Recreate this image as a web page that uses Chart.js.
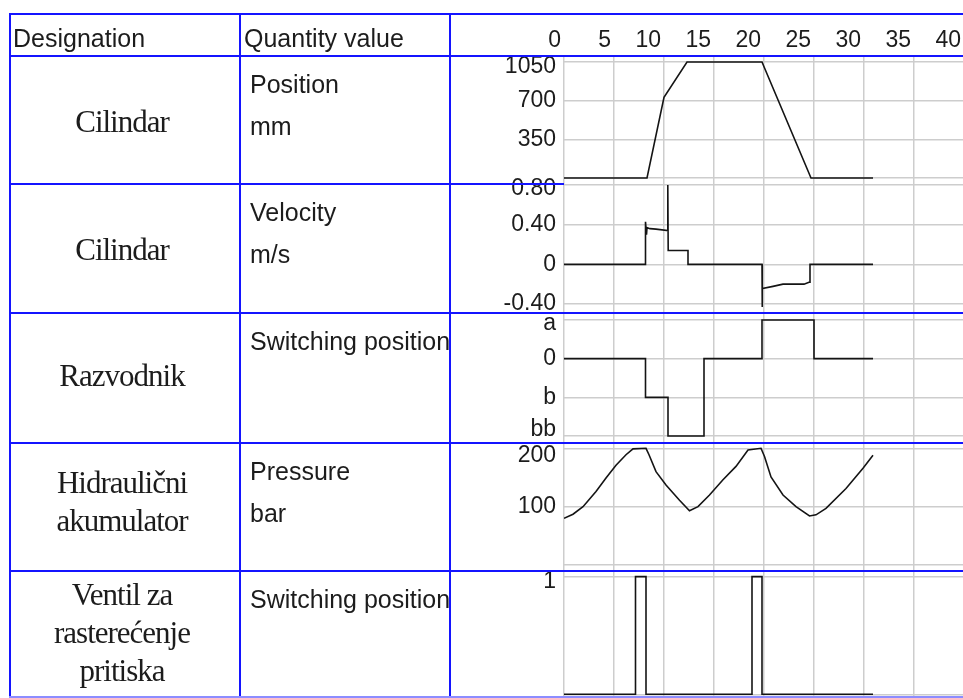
<!DOCTYPE html>
<html>
<head>
<meta charset="utf-8">
<title>State diagram</title>
<script src="https://cdn.jsdelivr.net/npm/chart.js@4.4.1/dist/chart.umd.min.js"></script>
<style>
  html, body { margin: 0; padding: 0; background: #fff; overflow: hidden; }
  canvas { display: block; }
</style>
</head>
<body>
<canvas id="stateChart" width="966" height="698"></canvas>
<script>
// time axis, s
const timeTicks = [0, 5, 10, 15, 20, 25, 30, 35, 40];

// cylinder position, mm
const positionTime = [0, 8.3, 10.0, 12.3, 19.8, 24.7, 30.9];
const positionMm = [0, 0, 730, 1050, 1050, 0, 0];
const positionGrid = [0, 350, 700, 1050];
const positionTickValues = [1050, 700, 350];
const positionTickLabels = ['1050', '700', '350'];

// cylinder velocity, m/s
const velocityTime = [0, 8.15, 8.15, 8.25, 8.3, 8.6, 9.2, 10.38, 10.38, 10.42, 12.4, 12.4,
  19.8, 19.8, 19.85, 20.9, 21.9, 24.0, 24.5, 24.6, 24.6, 30.9];
const velocityMs = [0, 0, 0.43, 0.30, 0.37, 0.36, 0.355, 0.34, 0.80, 0.14, 0.14, 0,
  0, -0.43, -0.245, -0.222, -0.20, -0.20, -0.18, -0.18, 0, 0];
const velocityGrid = [-0.4, 0, 0.4, 0.8];
const velocityTickValues = [0.8, 0.4, 0, -0.4];
const velocityTickLabels = ['0.80', '0.40', '0', '-0.40'];

// directional valve switching position (a = 1, 0, b = -1, bb = -2)
const valveTime = [0, 8.15, 8.15, 10.4, 10.4, 14.0, 14.0, 19.8, 19.8, 25.0, 25.0, 30.9];
const valvePos = [0, 0, -1, -1, -2, -2, 0, 0, 1, 1, 0, 0];
const valveGrid = [-2, -1, 0, 1];
const valveTickValues = [1, 0, -1, -2];
const valveTickLabels = ['a', '0', 'b', 'bb'];

// accumulator pressure, bar
const pressureTime = [0, 0.9, 1.9, 3.2, 4.2, 5.2, 6.2, 6.9, 8.2, 8.5, 9.2, 10.2, 11.55, 12.55,
  13.4, 14.55, 15.9, 17.2, 18.4, 19.7, 20.05, 20.7, 21.9, 23.2, 24.55, 25.2, 26.2, 28.2, 29.9, 30.9];
const pressureBar = [80, 87, 100, 126, 149, 171, 189, 199, 200, 189, 160, 137, 111, 93,
  100, 120, 146, 169, 197, 200, 186, 151, 120, 100, 84, 86, 97, 131, 166, 188];
const pressureGrid = [0, 100, 200];
const pressureTickValues = [200, 100];
const pressureTickLabels = ['200', '100'];

// pressure relief valve switching position
const reliefTime = [0, 7.15, 7.15, 8.2, 8.2, 18.8, 18.8, 19.8, 19.8, 30.9];
const reliefState = [0, 0, 1, 1, 0, 0, 1, 1, 0, 0];
const reliefGrid = [0, 1];
const reliefTickValues = [1];
const reliefTickLabels = ['1'];

const SANS = '"Liberation Sans", Arial, sans-serif';
const SERIF = '"Liberation Serif", "Times New Roman", serif';
const INK = '#1c1c1c';
const BLUE = '#1414ff';
const AXIS_W = 564;

Chart.defaults.font.family = SANS;

function series(xs, ys, axis) {
  return {
    data: xs.map((x, i) => ({ x: x, y: ys[i] })),
    yAxisID: axis,
    borderColor: '#141414',
    borderWidth: 1.6,
    pointRadius: 0,
    tension: 0,
    fill: false
  };
}

function rowAxis(min, max, weight, grid) {
  return {
    type: 'linear',
    position: 'left',
    stack: 'rows',
    stackWeight: weight,
    min: min,
    max: max,
    offset: false,
    grid: { color: '#cdcdcd', lineWidth: 1.5, drawTicks: false },
    border: { display: false },
    ticks: { display: false },
    afterBuildTicks: s => { s.ticks = grid.map(v => ({ value: v })); },
    afterFit: s => { s.width = AXIS_W; }
  };
}

// left part of the table: designation and quantity per row
const rows = [
  { axis: 'y1', name: ['Cilindar'], nameY: [76], qty: ['Position', 'mm'] },
  { axis: 'y2', name: ['Cilindar'], nameY: [76], qty: ['Velocity', 'm/s'] },
  { axis: 'y3', name: ['Razvodnik'], nameY: [73], qty: ['Switching position'] },
  { axis: 'y4', name: ['Hidraulični', 'akumulator'], nameY: [50, 88], qty: ['Pressure', 'bar'] },
  { axis: 'y5', name: ['Ventil za', 'rasterećenje', 'pritiska'], nameY: [34, 72, 110], qty: ['Switching position'] }
];

// y labels per row, kept inside their own row
const rowLabels = [
  { axis: 'y1', values: positionTickValues, labels: positionTickLabels, padTop: 11, padBottom: 13 },
  { axis: 'y2', values: velocityTickValues, labels: velocityTickLabels, padTop: 5, padBottom: 9 },
  { axis: 'y3', values: valveTickValues, labels: valveTickLabels, padTop: 11, padBottom: 13 },
  { axis: 'y4', values: pressureTickValues, labels: pressureTickLabels, padTop: 13, padBottom: 13 },
  { axis: 'y5', values: reliefTickValues, labels: reliefTickLabels, padTop: 11, padBottom: 13 }
];

const tablePlugin = {
  id: 'tablePlugin',
  afterDraw(chart) {
    const ctx = chart.ctx;
    const area = chart.chartArea;
    const right = chart.width;
    const top = 14;
    const headBottom = area.top;
    const bottom = area.bottom;
    ctx.save();

    // y labels
    ctx.fillStyle = INK;
    ctx.font = '23px ' + SANS;
    ctx.textAlign = 'right';
    ctx.textBaseline = 'middle';
    rowLabels.forEach(r => {
      const s = chart.scales[r.axis];
      r.values.forEach((v, i) => {
        let y = s.getPixelForValue(v);
        y = Math.max(s.top + r.padTop, Math.min(s.bottom - r.padBottom, y));
        ctx.fillText(r.labels[i], 556, y);
      });
    });

    // header
    ctx.textAlign = 'left';
    ctx.textBaseline = 'alphabetic';
    ctx.font = '25px ' + SANS;
    ctx.fillText('Designation', 13, 47);
    ctx.fillText('Quantity value', 244, 47);

    rows.forEach(r => {
      const s = chart.scales[r.axis];
      ctx.save();
      ctx.beginPath();
      ctx.rect(241, s.top, 208, s.bottom - s.top);
      ctx.clip();
      ctx.font = '25px ' + SANS;
      ctx.textAlign = 'left';
      r.qty.forEach((t, i) => ctx.fillText(t, 250, s.top + 37 + i * 42));
      ctx.restore();

      ctx.font = '31px ' + SERIF;
      ctx.letterSpacing = '-1px';
      ctx.textAlign = 'center';
      r.name.forEach((t, i) => ctx.fillText(t, 122, s.top + r.nameY[i]));
      ctx.letterSpacing = '0px';
    });

    // blue table rules
    ctx.strokeStyle = BLUE;
    ctx.lineWidth = 2;
    const hLine = (y, x1, x2) => { ctx.beginPath(); ctx.moveTo(x1, y); ctx.lineTo(x2, y); ctx.stroke(); };
    const vLine = (x, y1, y2) => { ctx.beginPath(); ctx.moveTo(x, y1); ctx.lineTo(x, y2); ctx.stroke(); };
    hLine(top, 9, right);
    hLine(headBottom, 9, right);
    hLine(chart.scales.y1.bottom, 9, area.left);
    ['y2', 'y3', 'y4'].forEach(id => hLine(chart.scales[id].bottom, 9, right));
    [10, 240, 450].forEach(x => vLine(x, top - 1, bottom + 1));
    ctx.strokeStyle = '#8c8cff';
    hLine(bottom, 9, right);
    ctx.restore();
  }
};

new Chart(document.getElementById('stateChart'), {
  type: 'line',
  data: {
    datasets: [
      series(positionTime, positionMm, 'y1'),
      series(velocityTime, velocityMs, 'y2'),
      series(valveTime, valvePos, 'y3'),
      series(pressureTime, pressureBar, 'y4'),
      series(reliefTime, reliefState, 'y5')
    ]
  },
  options: {
    responsive: false,
    animation: false,
    devicePixelRatio: 1,
    layout: { padding: { top: 14, left: 0, right: 2, bottom: 1 } },
    plugins: { legend: { display: false }, tooltip: { enabled: false } },
    scales: {
      x: {
        type: 'linear',
        position: 'top',
        min: 0,
        max: 40,
        grid: { color: '#cdcdcd', lineWidth: 1.5, drawTicks: false },
        border: { display: false },
        ticks: {
          color: INK,
          font: { size: 23, lineHeight: 1.2 },
          padding: 2,
          align: 'end',
          labelOffset: -3,
          autoSkip: false,
          maxRotation: 0,
          callback: v => String(v)
        },
        afterBuildTicks: s => { s.ticks = timeTicks.map(v => ({ value: v })); },
        afterFit: s => { s.height = 42; }
      },
      // stacked rows: the last one listed is placed on top
      y5: rowAxis(-0.023, 1.048, 126, reliefGrid),
      y4: rowAxis(-10.3, 209.1, 128, pressureGrid),
      y3: rowAxis(-2.181, 1.181, 130, valveGrid),
      y2: rowAxis(-0.4907, 0.8101, 129, velocityGrid),
      y1: rowAxis(-54.3, 1104.3, 128, positionGrid)
    }
  },
  plugins: [tablePlugin]
});
</script>
</body>
</html>
